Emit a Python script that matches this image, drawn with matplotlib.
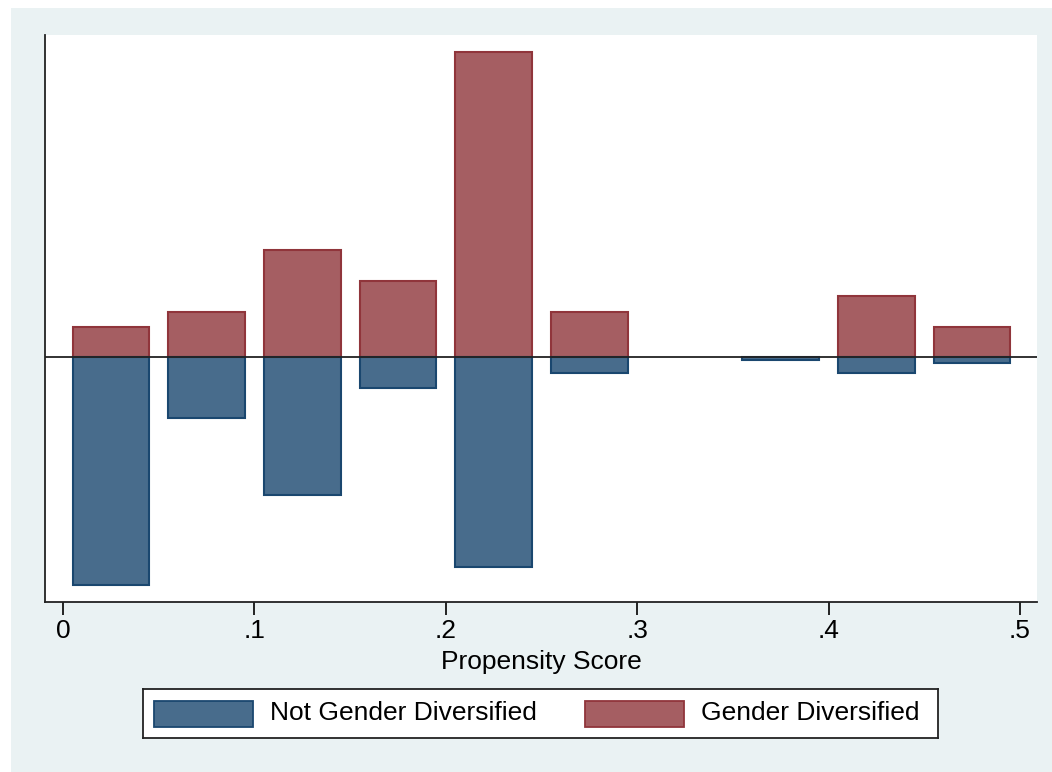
import numpy as np
import matplotlib.pyplot as plt
from matplotlib.patches import Rectangle

# Propensity score bins (bin centres) and bar heights
bin_centres = [0.025, 0.075, 0.125, 0.175, 0.225, 0.275, 0.325, 0.375, 0.425, 0.475]
gender_div = [2.0, 3.0, 7.05, 5.0, 20.1, 3.0, 0.0, 0.0, 4.05, 2.0]
not_gender_div = [15.0, 4.0, 9.05, 2.0, 13.8, 1.05, 0.0, 0.15, 1.05, 0.37]
xticks = [0, 0.1, 0.2, 0.3, 0.4, 0.5]
xtick_labels = ['0', '.1', '.2', '.3', '.4', '.5']

W, H = 1052, 772
bg = '#EAF2F3'
blue_fill, blue_edge = '#486C8C', '#1A476F'
red_fill, red_edge = '#A55E62', '#90353B'
fs = 19

plt.rcParams['font.family'] = ['Liberation Sans', 'DejaVu Sans']

fig = plt.figure(figsize=(W / 100, H / 100), dpi=100)
fig.patch.set_facecolor('white')
fig.patches.append(Rectangle((11 / W, 0), 1 - 11 / W, 1 - 8 / H,
                             transform=fig.transFigure, facecolor=bg,
                             edgecolor='none', zorder=-10))

# axes: left 45, right 1037, top 35, bottom 602 (pixels)
ax = fig.add_axes([45 / W, 1 - 602 / H, (1037 - 45) / W, (602 - 35) / H])
ax.set_facecolor('white')

x = np.array(bin_centres)
g = np.array(gender_div)
n = np.array(not_gender_div)
# empty bins draw nothing
ax.bar(x[g > 0], g[g > 0], width=0.04, color=red_fill, edgecolor=red_edge,
       linewidth=1.5, zorder=2)
ax.bar(x[n > 0], -n[n > 0], width=0.04, color=blue_fill, edgecolor=blue_edge,
       linewidth=1.5, zorder=2)
ax.axhline(0, color='#222222', linewidth=1.3, zorder=3)

ax.set_xlim(-0.0094, 0.5089)
ax.set_ylim(-16.1, 21.2)
ax.set_xticks(xticks)
ax.set_xticklabels(xtick_labels, fontsize=fs)
ax.set_yticks([])
ax.tick_params(axis='x', direction='out', length=9, width=1.2, pad=3)
for s in ['top', 'right']:
    ax.spines[s].set_visible(False)
for s in ['left', 'bottom']:
    ax.spines[s].set_linewidth(1.3)
    ax.spines[s].set_color('#222222')
ax.set_xlabel('Propensity Score', fontsize=fs, labelpad=5)

# legend box
lg_ax = fig.add_axes([143 / W, 1 - 738 / H, (938 - 143) / W, (738 - 689) / H])
lg_ax.set_xlim(143, 938)
lg_ax.set_ylim(738, 689)
lg_ax.set_xticks([])
lg_ax.set_yticks([])
lg_ax.set_facecolor('white')
for s in lg_ax.spines.values():
    s.set_linewidth(1.3)
    s.set_color('#222222')
lg_ax.add_patch(Rectangle((154, 701), 99, 26, facecolor=blue_fill, edgecolor=blue_edge, linewidth=1.3))
lg_ax.text(270, 713, 'Not Gender Diversified', fontsize=fs, va='center', ha='left')
lg_ax.add_patch(Rectangle((585, 701), 99, 26, facecolor=red_fill, edgecolor=red_edge, linewidth=1.3))
lg_ax.text(701, 713, 'Gender Diversified', fontsize=fs, va='center', ha='left')

fig.savefig('out.png', dpi=100, facecolor=fig.get_facecolor())
